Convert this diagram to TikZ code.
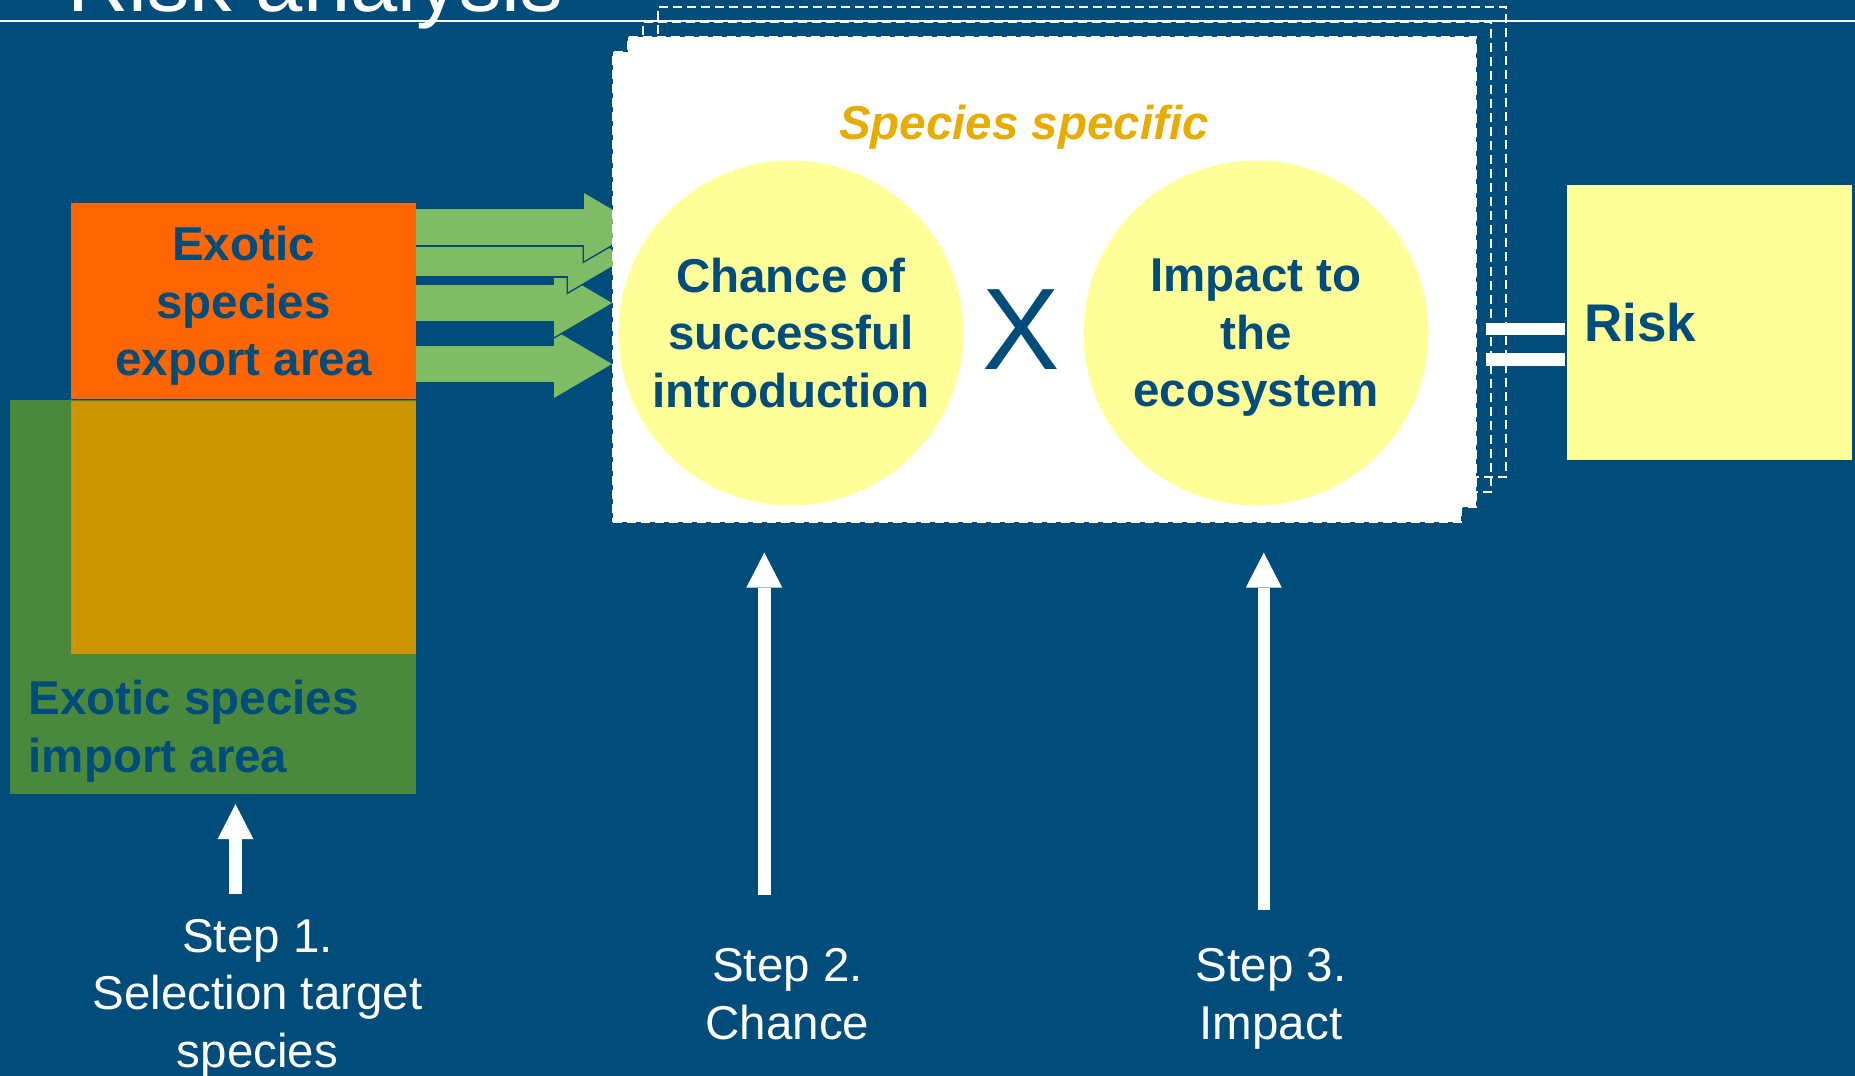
\documentclass[tikz,border=0pt]{standalone}
\usepackage{fontspec}
\setmainfont{Liberation Sans}
\usetikzlibrary{arrows.meta}

\definecolor{bgblue}{RGB}{0,76,122}
\definecolor{exportorange}{RGB}{255,102,0}
\definecolor{importgreen}{RGB}{74,137,61}
\definecolor{overlapgold}{RGB}{204,148,0}
\definecolor{feedgreen}{RGB}{128,187,102}
\definecolor{paleyellow}{RGB}{255,255,153}
\definecolor{headgold}{RGB}{232,172,0}

\newcommand{\bigtext}{\fontsize{47.5pt}{57.5pt}\selectfont}

\begin{document}
\begin{tikzpicture}[x=1pt,y=-1pt,
    feed/.style={draw=feedgreen, line width=36pt,
                 -{Triangle[length=58pt,width=68pt,line width=0pt]}},
    feedrim/.style={draw=bgblue, line width=39pt, shorten >=-3pt,
                    -{Triangle[length=62.5pt,width=73.3pt,line width=0pt]}}]
\useasboundingbox (0,0) rectangle (1855,1076);
\clip (0,0) rectangle (1855,1076);
\fill[bgblue] (0,0) rectangle (1855,1076);

\node[anchor=base west, inner sep=0pt, text=white,
      font=\fontsize{85pt}{90pt}\selectfont] (title) at (67,12) {Risk analysis};
\draw[white, line width=2pt] (0,21) -- (1855,21);

% cards behind
\begin{scope}[every node/.style={rectangle, minimum width=848pt, minimum height=470pt,
              inner sep=0pt, draw=white, line width=2pt, dash pattern=on 9pt off 5pt}]
    \node (cardD) at (1082,242) {};
    \node (cardC) at (1067,257) {};
\end{scope}

% areas
\begin{scope}[every node/.style={rectangle, inner sep=0pt, text=bgblue, font=\bigtext\bfseries}]
    \node[fill=importgreen, minimum width=406pt, minimum height=394pt] (import) at (213,597) {};
    \node[fill=overlapgold, minimum width=345pt, minimum height=253pt] (overlap) at (243.5,527.5) {};
    \node[fill=exportorange, minimum width=345pt, minimum height=196pt, align=center]
        (export) at (243.5,301) {Exotic\\species\\\smash{export area}};
    \node[anchor=north west, align=left] (importtxt) at (28.5,680) {Exotic species\\import area};
\end{scope}

\coordinate (tip1) at (642,227);
\coordinate (tip2) at (626,258);
\coordinate (tip3) at (612,303);
\coordinate (tip4) at (612,364);

\path (export.east |- tip4) edge[feedrim] (tip4) edge[feed] (tip4);
\path (export.east |- tip3) edge[feedrim] (tip3) edge[feed] (tip3);
\path (export.east |- tip2) edge[feedrim] (tip2) edge[feed] (tip2);
\path (export.east |- tip1) edge[feedrim] (tip1) edge[feed] (tip1);

% front cards
\begin{scope}[every node/.style={rectangle, minimum width=848pt, minimum height=470pt,
              inner sep=0pt, fill=white, draw=white, line width=2pt, dash pattern=on 9pt off 5pt}]
    \node (cardB) at (1052,272) {};
    \node (specbox) at (1037,287) {};
\end{scope}

\begin{scope}[every node/.style={circle, fill=paleyellow, minimum size=345pt, inner sep=0pt,
              align=center, text=bgblue, font=\bigtext\bfseries}]
    \node (chance) at (791,333) {Chance of\\successful\\introduction};
    \node (impact) at (1256,333) {Impact to\\the\\\smash{ecosystem}};
\end{scope}

\node[anchor=base, inner sep=0pt, text=bgblue, font=\fontsize{116pt}{120pt}\selectfont]
    (times) at (1021,369) {X};
\node[anchor=base, inner sep=0pt, text=headgold, font=\bigtext\bfseries\itshape]
    (specific) at (1024,139.5) {Species specific};

\node[fill=paleyellow, minimum width=285pt, minimum height=275pt, inner xsep=17pt,
      text width=251pt, align=left, text=bgblue, font=\fontsize{53pt}{60pt}\selectfont\bfseries]
    (risk) at (1709.5,322.5) {Risk};

\coordinate (eq1) at (1486,329);
\coordinate (eq2) at (1486,359.5);
\draw[white, line width=12.5pt, shorten >=2pt] (eq1) -- (eq1 -| risk.west);
\draw[white, line width=12.5pt, shorten >=2pt] (eq2) -- (eq2 -| risk.west);

\begin{scope}[every node/.style={align=center, text=white, font=\fontsize{47.5pt}{57.5pt}\selectfont}]
    \node (step1) at (257.5,998) {Step 1.\\Selection target\\species};
    \node (step2) at (787.5,994) {Step 2.\\Chance};
    \node (step3) at (1271,994) {Step 3.\\\smash{Impact}};
\end{scope}

\coordinate (foot1) at (235.5,894);
\coordinate (foot2) at (764.3,894.5);
\coordinate (foot3) at (1263.8,909.5);

\begin{scope}[>={Triangle[length=35pt,width=36pt,line width=0pt]},
              every edge/.style={draw=white, line width=12.5pt}]
    \path [->] (foot1) edge[shorten >=10pt] (foot1 |- import.south);
    \path [->] (foot2) edge[shorten >=29.6pt] (foot2 |- specbox.south);
    \path [->] (foot3) edge[shorten >=29.6pt] (foot3 |- specbox.south);
\end{scope}
\end{tikzpicture}
\end{document}
